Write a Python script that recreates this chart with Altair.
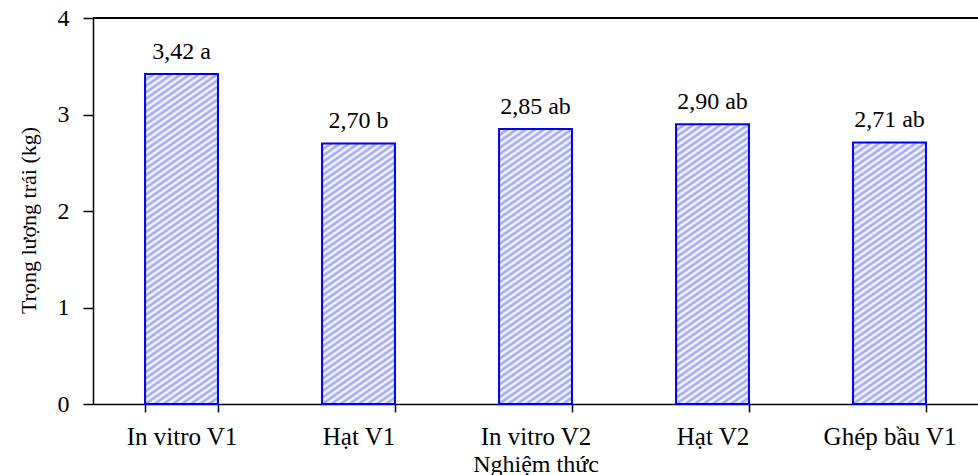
import math
import altair as alt
import pandas as pd

# ---- data ----
categories = ["In vitro V1", "Hạt V1", "In vitro V2", "Hạt V2", "Ghép bầu V1"]
values = [3.42, 2.70, 2.85, 2.90, 2.71]
letters = ["a", "b", "ab", "ab", "ab"]
y_ticks = [0, 1, 2, 3, 4]

labels = [f"{v:.2f}".replace(".", ",") + " " + l for v, l in zip(values, letters)]
df = pd.DataFrame({"cat": categories, "val": values, "lab": labels})

# ---- layout ----
LEFT, TOP = 93, 18
W, H = 885, 386
BOTTOM = 475 - TOP - H
Y_MAX = 4
P_INNER = 0.588
step = W / (len(categories) - P_INNER + P_INNER)
bar_w = step * (1 - P_INNER)

FONT = "Liberation Serif"
STRIPE = "#989ef0"
THETA = math.radians(35)
PERIOD = 5.2


def hatch(value):
    """Diagonal '/' stripes built as a many-stop linear gradient for one bar."""
    w = bar_w
    h = value / Y_MAX * H
    ux, uy = math.sin(THETA) / h, math.cos(THETA) / w
    s = (ux + uy) / (ux * ux + uy * uy)
    D = w * math.sin(THETA) + h * math.cos(THETA)
    n = max(1, int(round(D / PERIOD)))
    stops = []
    for k in range(n):
        stops.append(alt.GradientStop(offset=k / n, color=STRIPE))
        stops.append(alt.GradientStop(offset=(k + 0.5) / n, color="#ffffff"))
    stops.append(alt.GradientStop(offset=1.0, color=STRIPE))
    return alt.LinearGradient(gradient="linear", stops=stops,
                              x1=0, y1=0, x2=s * ux, y2=s * uy)


x_enc = alt.X(
    "cat:N", sort=categories,
    scale=alt.Scale(paddingInner=P_INNER, paddingOuter=P_INNER / 2),
    axis=alt.Axis(
        title="Nghiệm thức", labelAngle=0, tickBand="extent",
        tickSize=8, tickWidth=1.5, domainWidth=1.5, domainColor="black",
        tickColor="black", labelColor="black", labelFont=FONT, labelFontSize=25,
        labelPadding=12, titleFont=FONT, titleFontSize=24, titleFontWeight="normal",
        titleColor="black", titleBaseline="alphabetic", titleY=67, titleX=W / 2,
        grid=False,
    ),
)
y_enc = alt.Y(
    "val:Q",
    scale=alt.Scale(domain=[0, Y_MAX], nice=False),
    axis=alt.Axis(
        values=y_ticks, format="d", title="Trọng lượng trái (kg)", tickSize=10,
        tickWidth=1.5, domainWidth=1.5, domainColor="black", tickColor="black",
        labelColor="black", labelFont=FONT, labelFontSize=24, labelPadding=14,
        titleFont=FONT, titleFontSize=22, titleFontWeight="normal",
        titleColor="black", titleBaseline="alphabetic", titleX=-58, titleY=202,
        titleAngle=-90, grid=False,
    ),
)

base = alt.Chart(df)
bar_layers = []
for c, v in zip(categories, values):
    bar_layers.append(
        base.transform_filter(alt.datum.cat == c)
        .mark_bar(fill=hatch(v), stroke="#0000ff", strokeWidth=2)
        .encode(x=x_enc, y=y_enc)
    )

text = base.mark_text(font=FONT, fontSize=24, color="black",
                      baseline="alphabetic", dy=-15).encode(
    x=alt.X("cat:N", sort=categories), y="val:Q", text="lab:N")

top_line = alt.Chart(df).mark_rule(color="black", strokeWidth=1.5).encode(
    x=alt.value(0), x2=alt.value(W), y=alt.value(0))

chart = alt.layer(*bar_layers, text, top_line).properties(
    width=W, height=H,
    autosize=alt.AutoSizeParams(type="none"),
    padding={"left": LEFT, "top": TOP, "right": 0, "bottom": BOTTOM},
).configure_view(stroke=None).configure(background="white", font=FONT)

chart.save("out.html", embed_options={"renderer": "svg", "actions": False})
